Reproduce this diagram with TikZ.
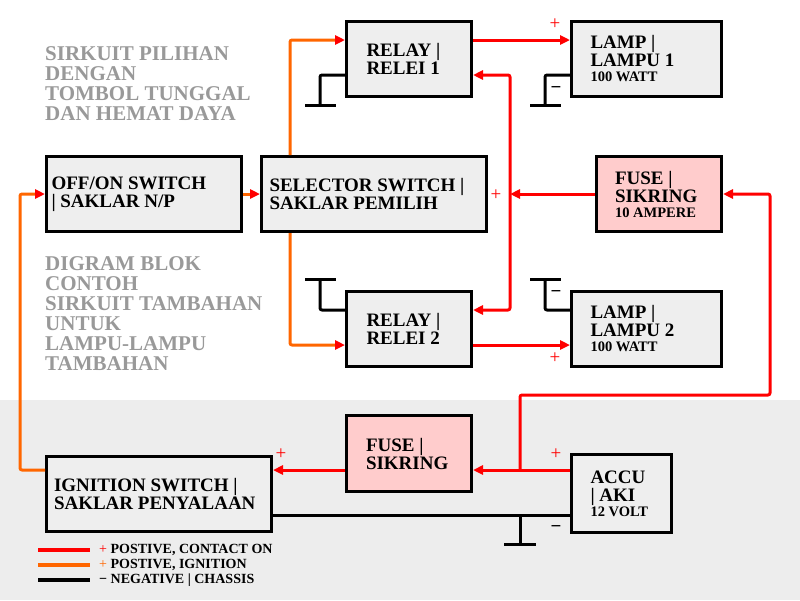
\documentclass[tikz,border=0pt]{standalone}
\usepackage{fontspec}
\setmainfont{Liberation Serif}
\usetikzlibrary{arrows.meta}
\definecolor{boxgray}{HTML}{EEEEEE}
\definecolor{bggray}{HTML}{EDEDED}
\definecolor{fusepink}{HTML}{FFCCCC}
\definecolor{wred}{HTML}{FF0000}
\definecolor{wora}{HTML}{FF6600}
\definecolor{txtgray}{HTML}{999999}
\newcommand\smalltxt{\fontsize{14.5}{14.5}\selectfont}
\begin{document}
\begin{tikzpicture}[x=1pt,y=-1pt,
  box/.style={draw=black, line width=3pt, fill=boxgray, anchor=north west, inner sep=0pt, align=flush left, font=\bfseries\fontsize{19}{18}\selectfont},
  fusebox/.style={box, fill=fusepink},
  wire/.style={line width=3pt, line join=round, rounded corners=2pt},
  rw/.style={wire, draw=wred},
  ow/.style={wire, draw=wora},
  bw/.style={wire, draw=black},
  toarrow/.style={-{Triangle[length=10pt,width=9pt,color=wred]}},
  botharrow/.style={{Triangle[length=10pt,width=9pt,color=wred]}-{Triangle[length=10pt,width=9pt,color=wred]}},
  plus/.style={text=wred, inner sep=0pt, font=\fontsize{19}{19}\selectfont},
  minus/.style={text=black, inner sep=0pt, font=\bfseries\fontsize{19}{19}\selectfont},
  graytxt/.style={anchor=north west, align=left, inner sep=0pt, text=txtgray, font=\bfseries\fontsize{21}{20}\selectfont},
  legtxt/.style={anchor=west, inner sep=0pt, font=\bfseries\fontsize{14}{14}\selectfont},
  legline/.style={line width=4pt}
]
\useasboundingbox (0,0) rectangle (800,600);
\fill[white] (0,0) rectangle (800,400);
\fill[bggray] (0,400) rectangle (800,600);

% level coordinates
\coordinate (yA) at (0,40);
\coordinate (yB) at (0,75);
\coordinate (yD) at (0,310);
\coordinate (yE) at (0,345);
\coordinate (yF) at (0,470);
\coordinate (yG) at (0,515);
\coordinate (xO) at (290,0);
\coordinate (xJ) at (510,0);
\coordinate (xR) at (770,0);
\coordinate (xK) at (520,395);
\coordinate (xL) at (20,0);

% boxes
\node[box, minimum width=125, minimum height=75, text width=85] (relay1) at (345,20) {RELAY |\\RELEI 1};
\node[box, minimum width=150, minimum height=75, text width=112] (lamp1) at (570,20) {LAMP |\\LAMPU 1\\[-3pt]{\smalltxt 100 WATT}};
\node[box, minimum width=195, minimum height=75, text width=185] (onoff) at (45,155) {OFF/ON SWITCH\\| SAKLAR N/P};
\node[box, minimum width=225, minimum height=75, text width=209] (sel) at (260,155) {SELECTOR SWITCH |\\SAKLAR PEMILIH};
\node[fusebox, minimum width=125, minimum height=75, text width=88] (fuse1) at (595,155) {FUSE |\\SIKRING\\[-3pt]{\smalltxt 10 AMPERE}};
\node[box, minimum width=125, minimum height=75, text width=85] (relay2) at (345,290) {RELAY |\\RELEI 2};
\node[box, minimum width=150, minimum height=75, text width=112] (lamp2) at (570,290) {LAMP |\\LAMPU 2\\[-3pt]{\smalltxt 100 WATT}};
\node[fusebox, minimum width=125, minimum height=76, text width=86] (fuse2) at (345,414) {FUSE |\\SIKRING};
\node[box, minimum width=225, minimum height=75, text width=210] (ign) at (45,455) {IGNITION SWITCH |\\SAKLAR PENYALAAN};
\node[box, minimum width=100, minimum height=78, text width=62] (accu) at (570,453) {ACCU\\| AKI\\[-3pt]{\smalltxt 12 VOLT}};

% orange wires
\draw[ow, toarrow] (sel.north -| xO) |- (relay1.west |- yA);
\draw[ow, toarrow] (sel.south -| xO) |- (relay2.west |- yE);
\draw[ow, toarrow] (onoff.east) -- (sel.west);
\draw[ow, toarrow] (ign.west |- yF) -| (xL |- onoff.west) -- (onoff.west);

% red wires
\draw[rw, toarrow] (relay1.east |- yA) -- (lamp1.west |- yA);
\draw[rw, toarrow] (relay2.east |- yE) -- (lamp2.west |- yE);
\draw[rw, botharrow] (relay1.east |- yB) -| (xJ |- yD) -- (relay2.east |- yD);
\draw[rw, toarrow] (fuse1.west) -- (xJ |- fuse1.west);
\draw[rw, toarrow] (xK |- yF) -- (xK) -| (xR |- fuse1.east) -- (fuse1.east);
\draw[rw, toarrow] (accu.west |- yF) -- (fuse2.east |- yF);
\draw[rw, toarrow] (fuse2.west |- yF) -- (ign.east |- yF);

% black wires and grounds
\draw[bw] (ign.east |- yG) -- (accu.west |- yG);
\draw[bw] (520,515) -- (520,544);
\draw[bw] (504,544) -- (536,544);
\draw[bw] (relay1.west |- yB) -| (320,105);
\draw[bw] (305,105) -- (336,105);
\draw[bw] (lamp1.west |- yB) -| (545,105);
\draw[bw] (530,105) -- (561,105);
\draw[bw] (relay2.west |- yD) -| (320,279);
\draw[bw] (305,279) -- (336,279);
\draw[bw] (lamp2.west |- yD) -| (545,279);
\draw[bw] (530,279) -- (561,279);

% polarity marks
\node[plus] (p1) at (555,24) {+};
\node[plus] (p2) at (496,195) {+};
\node[plus] (p3) at (555,358) {+};
\node[plus] (p4) at (556,454) {+};
\node[plus] (p5) at (281,454) {+};
\node[minus] (m1) at (556,90) {−};
\node[minus] (m2) at (556,294) {−};
\node[minus] (m3) at (556,529) {−};

% gray captions
\node[graytxt] (cap1) at (45,46) {SIRKUIT PILIHAN\\DENGAN\\TOMBOL TUNGGAL\\DAN HEMAT DAYA};
\node[graytxt] (cap2) at (45,256) {DIGRAM BLOK\\CONTOH\\SIRKUIT TAMBAHAN\\UNTUK\\LAMPU-LAMPU\\TAMBAHAN};

% legend
\draw[legline, draw=wred] (38,550) -- (90,550);
\draw[legline, draw=wora] (38,565) -- (90,565);
\draw[legline, draw=black] (38,580) -- (90,580);
\node[legtxt] (l1) at (99,550) {\textcolor{wred}{\mdseries +} POSTIVE, CONTACT ON};
\node[legtxt] (l2) at (99,565) {\textcolor{wora}{\mdseries +} POSTIVE, IGNITION};
\node[legtxt] (l3) at (99,580) {− NEGATIVE | CHASSIS};
\end{tikzpicture}
\end{document}
